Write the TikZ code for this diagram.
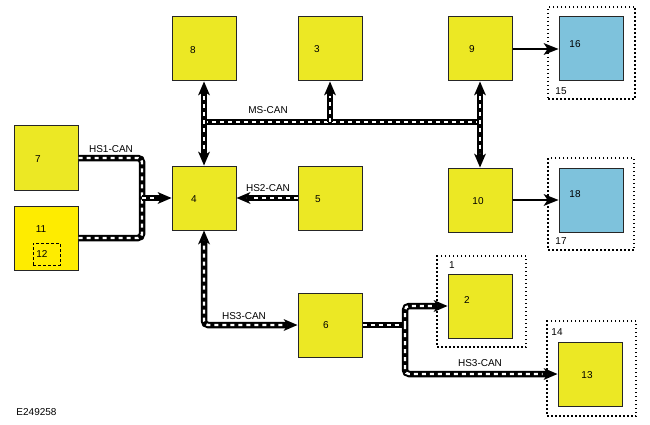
\documentclass[tikz,border=0pt]{standalone}
\usepackage{fontspec}
\setmainfont{Liberation Sans}
\usetikzlibrary{arrows.meta}
\definecolor{ecuyellow}{RGB}{236,232,36}
\definecolor{ecuyellowb}{RGB}{254,236,0}
\definecolor{ecublue}{RGB}{126,194,220}
\begin{document}
\begin{tikzpicture}[x=1pt,y=-1pt,font=\fontsize{10}{12}\selectfont,
	box/.style={draw=black!85,line width=1pt,fill=ecuyellow,minimum size=64pt,inner sep=0pt},
	frame/.style={draw,line width=1.2pt,dash pattern=on 1.5pt off 2.5pt,inner sep=0pt},
	tip/.style={-{Stealth[length=14pt,width=12pt,inset=4pt,line width=0pt]}},
	tips/.style={{Stealth[length=14pt,width=12pt,inset=4pt,line width=0pt]}-{Stealth[length=14pt,width=12pt,inset=4pt,line width=0pt]}},
	bus/.style={line width=6.5pt,rounded corners=4pt,postaction={draw=white,line width=2.4pt,dash pattern=on 4pt off 4pt,-,#1}},
	bus/.default={},
	link/.style={line width=2.8pt,-{Stealth[length=15pt,width=12pt,inset=4pt,line width=0pt]}}]
	\useasboundingbox (0,0) rectangle (650,425);
	\node[box] (b8) at (204,49) {};
	\node (t8) at (193,50) {8};
	\node[box] (b3) at (330,49) {};
	\node (t3) at (317,49) {3};
	\node[box] (b9) at (480,49) {};
	\node (t9) at (472,49) {9};
	\node[box,fill=ecublue] (b16) at (591,49) {};
	\node (t16) at (575,44) {16};
	\node[frame,minimum width=87pt,minimum height=92pt] (f15) at (591.5,53) {};
	\node (t15) at (561,91) {15};
	\node[box] (b4) at (204,198) {};
	\node (t4) at (194,199) {4};
	\node[box] (b5) at (330,198) {};
	\node (t5) at (318,199) {5};
	\node[box] (b10) at (480,200) {};
	\node (t10) at (478,201) {10};
	\node[box,fill=ecublue] (b18) at (591,200) {};
	\node (t18) at (575,194) {18};
	\node[frame,minimum width=86pt,minimum height=92pt] (f17) at (591,204) {};
	\node (t17) at (561,241) {17};
	\node[box] (b7) at (46,158) {};
	\node (t7) at (38,159) {7};
	\node[box,fill=ecuyellowb] (b11) at (46,238) {};
	\node (t11) at (41,229) {11};
	\node[draw,line width=1pt,dash pattern=on 3pt off 2pt,minimum width=27pt,minimum height=22pt,inner sep=0pt] (b12) at (46.5,254) {};
	\node (t12) at (42,254) {12};
	\node[box] (b6) at (330,325) {};
	\node (t6) at (326,325) {6};
	\node[box] (b2) at (480,306) {};
	\node (t2) at (467,300) {2};
	\node[frame,minimum width=89pt,minimum height=91pt] (f1) at (481.5,301.5) {};
	\node (t1) at (452,265) {1};
	\node[box] (b13) at (590,374) {};
	\node (t13) at (587,375) {13};
	\node[frame,minimum width=89pt,minimum height=95pt] (f14) at (591.5,368.5) {};
	\node (t14) at (557,332) {14};
	\node (id) at (36.5,412) {E249258};
	\coordinate (ms) at (0,122);
	\coordinate (j1) at (142,198);
	\coordinate (j3) at (405,325);
	\draw[bus] (b8|-ms) -- (b9|-ms);
	\draw[bus={shorten >=15pt},tip] (b3|-ms) -- (b3);
	\draw[bus={shorten >=15pt,shorten <=15pt},tips] (b8) -- (b4);
	\draw[bus={shorten >=15pt,shorten <=15pt},tips] (b9) -- (b10);
	\draw[bus] (b7.east) -| (j1);
	\draw[bus] (b11.east) -| (j1);
	\draw[bus={shorten >=15pt},tip] (j1) -- (b4.west);
	\draw[bus={shorten >=15pt},tip] (b5) -- (b4);
	\draw[bus={shorten >=15pt,shorten <=15pt},tips] (b4) |- (b6);
	\draw[bus] (b6.east) -- (j3);
	\draw[bus={shorten >=15pt},tip] (j3) |- (b2);
	\draw[bus={shorten >=15pt},tip] (j3) |- (b13);
	\draw[link] (b9) -- (b16);
	\draw[link] (b10) -- (b18);
	\node (ms-can) at (268,110) {MS-CAN};
	\node (hs1-can) at (111,149) {HS1-CAN};
	\node (hs2-can) at (268,188) {HS2-CAN};
	\node (hs3-can) at (244,316) {HS3-CAN};
	\node (hs3-canb) at (480,363) {HS3-CAN};
\end{tikzpicture}
\end{document}
